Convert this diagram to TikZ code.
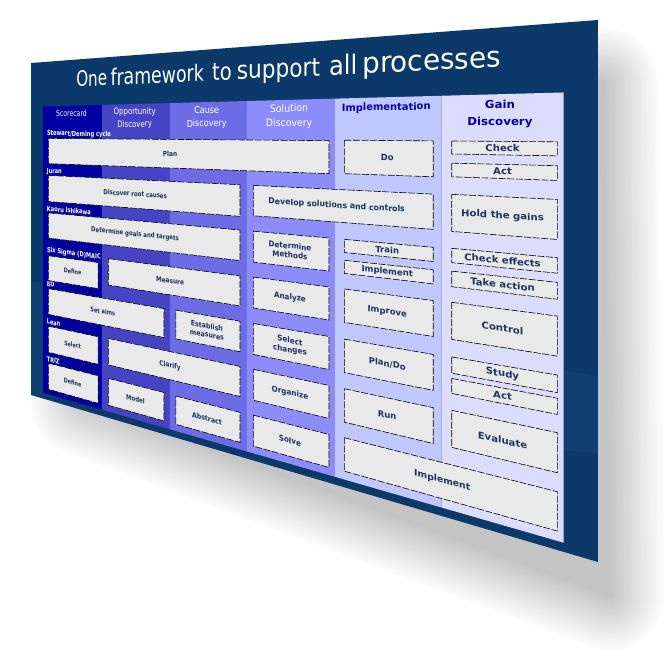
\documentclass[tikz,border=0pt]{standalone}
\usepackage{fontspec}
\setmainfont{DejaVu Sans}
\definecolor{slidebg}{RGB}{11,58,106}
\definecolor{slidelt}{RGB}{16,64,113}
\definecolor{cA}{RGB}{0,0,160}
\definecolor{cB}{RGB}{68,68,196}
\definecolor{cC}{RGB}{108,108,230}
\definecolor{cD}{RGB}{140,140,250}
\definecolor{cE}{RGB}{192,200,255}
\definecolor{cF}{RGB}{220,220,255}
\definecolor{boxgray}{RGB}{233,233,233}
\definecolor{boxtxt}{RGB}{28,52,96}
\definecolor{hdrblue}{RGB}{0,0,170}
\def\txsq{0.9}
% core: {opts}{name}{s position}{s used for the local scale}{t}{text}
\newcommand\stextcore[6]{%
  \pgfmathsetmacro\tX{34.73*(#3)/(1-0.038745*(#3))}%
  \pgfmathsetmacro\tXs{34.73*(#4)/(1-0.038745*(#4))}%
  \pgfmathsetmacro\tA{34.73/((1-0.038745*(#4))^2)}%
  \pgfmathsetmacro\tH{332+0.37037*\tXs}%
  \pgfmathsetmacro\tHp{332+0.37037*\tX}%
  \pgfmathsetmacro\tPx{31+\tX}%
  \pgfmathsetmacro\tPy{-(63-0.07584*\tX+(#5)/7.5*\tHp)}%
  \pgfmathsetmacro\tCa{\txsq*\tA/72}%
  \pgfmathsetmacro\tCb{\txsq*\tA*(0.07584-0.049383*(#5))/72}%
  \pgfmathsetmacro\tCd{\tH/540}%
  \node[inner sep=0pt,cm={\tCa,\tCb,0,\tCd,(0,0)},#1] (#2) at (\tPx,\tPy) {#6};%
}
% text node on the slide plane: [opts]{name}{s}{t}{text}
\newcommand\stext[5][]{\stextcore{#1}{#2}{#3}{#3}{#4}{#5}}
% left-anchored label, scale taken at s+hw: [opts]{name}{s}{t}{text}{hw}
\newcommand\stextL[6][]{\stextcore{lbl,#1}{#2}{#3}{#3+#6}{#4}{#5}}
% quad on the slide plane: [style]{s1}{t1}{s2}{t2}
\newcommand\squad[5][]{%
  \path[#1] ({ppx(#2)},{ppy(#2,#3)}) -- ({ppx(#4)},{ppy(#4,#3)}) -- ({ppx(#4)},{ppy(#4,#5)}) -- ({ppx(#2)},{ppy(#2,#5)}) -- cycle;%
}
% box with text: [textopts]{name}{s1}{t1}{s2}{t2}{text}
\newcommand\tbox[7][]{%
  \squad[sbox]{#3}{#4}{#5}{#6}%
  \pgfmathsetmacro\bxs{((#3)+(#5))/2}%
  \pgfmathsetmacro\bxt{((#4)+(#6))/2}%
  \stext[btext,#1]{#2}{\bxs}{\bxt}{#7}%
}
\begin{document}
\begin{tikzpicture}[x=1pt,y=1pt,
  declare function={
    sx(\x)=34.73*\x/(1-0.038745*\x);
    ppx(\x)=31+sx(\x);
    ppy(\x,\y)=-(63-0.07584*sx(\x)+\y/7.5*(332+0.37037*sx(\x)));
  },
  sbox/.style={fill=boxgray,draw=black,line width=0.6pt,dash pattern=on 7pt off 1.6pt},
  btext/.style={text=boxtxt,font=\bfseries\fontsize{10}{11.6}\selectfont,align=center},
  lbl/.style={text=white,font=\bfseries\fontsize{10.8}{12}\selectfont,anchor=base west},
  hdrw/.style={text=white,font=\fontsize{13}{18.4}\selectfont,align=center},
  hdrb/.style={text=hdrblue,font=\bfseries\fontsize{11.7}{18}\selectfont,align=center},
  ttl/.style={text=white,font=\fontsize{32.2}{38}\selectfont,anchor=base}]
\useasboundingbox (0,0) rectangle (671,-655);
\fill[white] (0,0) rectangle (671,-655);
% soft shadow
\foreach \i in {0,...,24}{
  \pgfmathsetmacro\shw{112*(1-\i/24)}
  \pgfmathsetmacro\shp{0.5+\i*0.95}
  \path[fill=black!\shp,draw=black!\shp,line width=\shw pt,line join=round]
    (85,-112) -- (604,-82) -- (610,-596) -- (85,-402) -- cycle;
}
% slide
\squad[fill=slidebg]{0}{0}{10}{7.5}
\path[fill=slidelt] ({ppx(0)},{ppy(0,4.93)}) -- ({ppx(10)},{ppy(10,4.93)}) -- ({ppx(10)},{ppy(10,6.0)}) -- ({ppx(0)},{ppy(0,7.5)}) -- cycle;
% title
\def\txsq{0.857}
\stext[ttl]{tOne}{1.638}{0.59}{One}
\stext[ttl]{tFrame}{3.184}{0.59}{framework}
\stext[ttl]{tTo}{4.532}{0.59}{to}
\stext[ttl]{tSupport}{5.584}{0.59}{support}
\stext[ttl]{tAll}{6.667}{0.59}{all}
\stext[ttl]{tProc}{7.973}{0.59}{processes}
\def\txsq{0.9}
% column strips
\squad[fill=cA]{0.34}{0.99}{1.89}{7.37}
\squad[fill=cB]{1.89}{0.99}{3.46}{7.37}
\squad[fill=cC]{3.46}{0.99}{5.00}{7.37}
\squad[fill=cD]{5.00}{0.99}{6.54}{7.37}
\squad[fill=cE]{6.54}{0.99}{8.11}{7.37}
\squad[fill=cF]{8.11}{0.99}{9.62}{7.37}
% headers
\stext[hdrw]{hScore}{1.115}{1.15}{Scorecard}
\stext[hdrw]{hOpp}{2.675}{1.28}{Opportunity\\Discovery}
\stext[hdrw]{hCause}{4.23}{1.28}{Cause\\Discovery}
\stext[hdrw]{hSol}{5.77}{1.28}{Solution\\Discovery}
\stext[hdrb]{hImpl}{7.325}{1.16}{Implementation}
\stext[hdrb]{hGain}{8.865}{1.285}{Gain\\Discovery}
% scorecard labels
\stextL{lStew}{0.45}{1.645}{Stewart/Deming cycle}{0.8}
\stextL{lJuran}{0.45}{2.475}{Juran}{0.2}
\stextL{lKaoru}{0.45}{3.315}{Kaoru Ishikawa}{0.5}
\stextL{lSix}{0.45}{4.225}{Six Sigma (D)MAIC}{0.65}
\stextL{lEight}{0.45}{4.985}{8D}{0.1}
\stextL{lLean}{0.45}{5.815}{Lean}{0.2}
\stextL{lTriz}{0.45}{6.645}{TRIZ}{0.2}
% boxes
\tbox{plan}{0.49}{1.70}{6.44}{2.26}{Plan}
\tbox{discover}{0.49}{2.52}{4.88}{3.10}{Discover root causes}
\tbox{develop}{5.13}{2.52}{7.995}{3.07}{Develop solutions and controls}
\tbox{goals}{0.49}{3.35}{4.88}{3.91}{Determine goals and targets}
\tbox{defineA}{0.49}{4.30}{1.80}{4.85}{Define}
\tbox{measure}{2.05}{4.19}{4.88}{4.74}{Measure}
\tbox{setaims}{0.49}{5.03}{3.335}{5.60}{Set aims}
\tbox{establish}{3.59}{5.02}{4.88}{5.58}{Establish\\measures}
\tbox{selectL}{0.49}{5.86}{1.80}{6.44}{Select}
\tbox{clarify}{2.05}{5.85}{4.88}{6.40}{Clarify}
\tbox{defineB}{0.49}{6.68}{1.80}{7.26}{Define}
\tbox{model}{2.05}{6.68}{3.335}{7.24}{Model}
\tbox{abstract}{3.59}{6.69}{4.88}{7.24}{Abstract}
\tbox{methods}{5.13}{3.35}{6.44}{3.91}{Determine\\Methods}
\tbox{analyze}{5.13}{4.18}{6.44}{4.74}{Analyze}
\tbox{selchg}{5.13}{5.02}{6.44}{5.58}{Select\\changes}
\tbox{organize}{5.13}{5.85}{6.44}{6.41}{Organize}
\tbox{solve}{5.13}{6.68}{6.44}{7.24}{Solve}
\tbox{do}{6.685}{1.69}{7.995}{2.25}{Do}
\tbox{train}{6.685}{3.35}{7.995}{3.57}{Train}
\tbox{implA}{6.685}{3.70}{7.995}{3.92}{Implement}
\tbox{improve}{6.685}{4.18}{7.995}{4.74}{Improve}
\tbox{plando}{6.685}{5.02}{7.995}{5.58}{Plan/Do}
\tbox{run}{6.685}{5.85}{7.995}{6.41}{Run}
\tbox{implB}{6.685}{6.67}{9.548}{7.23}{Implement}
\tbox{check}{8.245}{1.69}{9.548}{1.89}{Check}
\tbox{actA}{8.245}{2.03}{9.548}{2.24}{Act}
\tbox{hold}{8.245}{2.51}{9.548}{3.08}{Hold the gains}
\tbox{checkeff}{8.245}{3.34}{9.548}{3.56}{Check effects}
\tbox{takeact}{8.245}{3.69}{9.548}{3.93}{Take action}
\tbox{control}{8.245}{4.17}{9.548}{4.74}{Control}
\tbox{study}{8.245}{5.01}{9.548}{5.26}{Study}
\tbox{actB}{8.245}{5.34}{9.548}{5.57}{Act}
\tbox{evaluate}{8.245}{5.83}{9.548}{6.40}{Evaluate}
\end{tikzpicture}
\end{document}
